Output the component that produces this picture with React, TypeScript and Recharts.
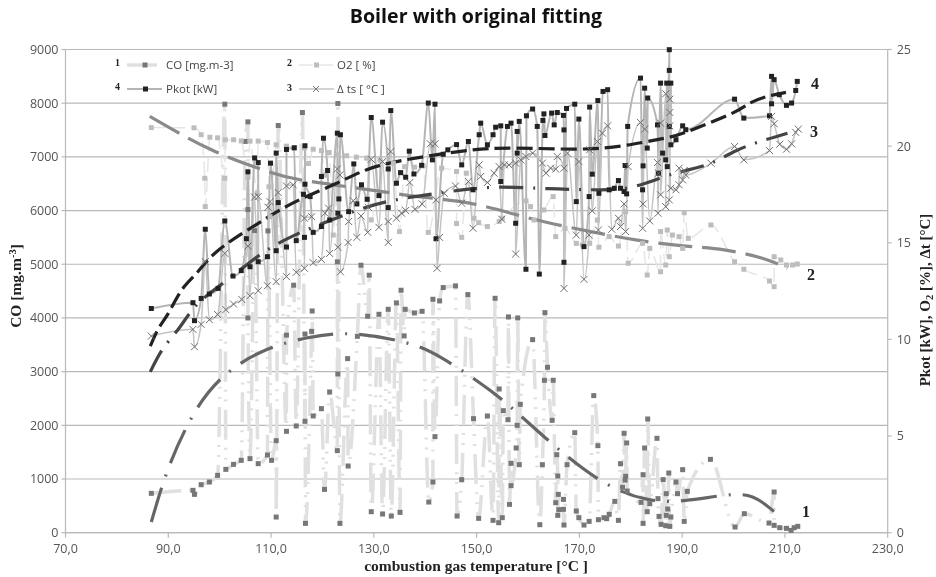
import React from "react";
import { ComposedChart, Line, XAxis, YAxis, CartesianGrid } from "recharts";

type P = [number, number];

const xTicks = [70, 90, 110, 130, 150, 170, 190, 210, 230];
const coTicks = [0, 1000, 2000, 3000, 4000, 5000, 6000, 7000, 8000, 9000];
const rightTicks = [0, 5, 10, 15, 20, 25];

const coPoints: P[] = [[86.7,733],[94.8,789],[95.1,714],[96.4,894],[98,944],[99.6,1068],[101.2,1180],[101,7981],[102.7,1273],[104.2,1348],[105,7288],[105.5,7652],[105.5,6019],[105.9,1379],[105.5,4000],[106.8,5625],[107.5,1286],[109.3,1447],[109.4,5622],[110.1,1348],[111,1714],[111,292],[111.4,7584],[113,1888],[113,3680],[114.4,4610],[114.9,1988],[116.1,7826],[116.6,2075],[116.7,174],[116.6,3700],[117.9,3750],[118,4130],[118.2,2174],[119.8,2311],[120.4,807],[121.4,2621],[122.9,1528],[122.9,5044],[123,2957],[123,7994],[123.4,174],[124.9,3242],[125,1242],[126.8,3658],[127.5,4982],[128.8,4031],[129.1,4796],[129.5,391],[131,4068],[131.7,348],[132.8,4161],[133.4,310],[134.4,4280],[135.1,379],[135.3,4516],[135.9,3665],[136.1,4161],[137.9,4093],[139.4,4124],[140.7,571],[141.5,944],[141.5,4348],[141.9,1789],[142.8,4317],[143.5,4566],[145.9,4597],[146.2,310],[147.1,988],[148.3,4435],[149.4,2124],[150.4,267],[152.1,2174],[153.2,230],[153.6,4366],[154.3,186],[154.4,2677],[155,280],[155.2,2273],[156.1,2105],[156.2,4019],[156.4,528],[156.7,1292],[156.7,876],[157.7,1578],[157.9,2000],[158,4000],[158.3,1267],[158.5,2391],[160.9,3596],[162.3,149],[162.8,1267],[163.2,2839],[163.3,4099],[163.8,3081],[164.7,2093],[164.9,2839],[165.4,559],[165.6,1453],[165.8,1056],[165.8,323],[165.9,714],[166,429],[166.9,621],[166.9,435],[167,143],[167.6,1267],[169.1,1863],[169.4,404],[169.9,280],[170.9,143],[171.9,211],[172.8,2553],[173.6,1621],[173.7,242],[174.8,280],[175.3,261],[175.8,342],[176.9,584],[177.6,230],[178,1286],[178.4,845],[178.7,1851],[178.9,980],[179,1050],[179.2,1671],[179.3,776],[182,565],[182.4,1081],[182.4,174],[182.7,1578],[183.2,391],[183.3,2118],[183.7,540],[185.1,1758],[185.3,634],[185.5,304],[185.9,155],[186.3,988],[186.8,130],[186.9,727],[186.9,323],[187.2,441],[187.4,1112],[187.6,118],[187.8,292],[188.8,944],[189.1,727],[190.1,1174],[190.4,211],[191,770],[195.5,1366],[200.3,106],[202.1,354],[206.9,180],[207.9,758],[207.9,137],[209,93],[210.3,81],[211.2,43],[211.8,93],[212.5,118]];

const o2Points: P[] = [[86.7,20.96],[95,20.95],[96.4,20.59],[97.1,18.34],[97.2,16.87],[98.1,20.46],[99.6,20.43],[101,18.34],[101.1,20.33],[102.7,20.33],[104.2,20.27],[105.5,18.39],[105.9,20.26],[107.3,17.56],[107.5,20.26],[109.3,20.19],[109.6,17.9],[109.8,16.35],[111,20.07],[113,20],[114.6,19.93],[116.5,19.9],[117.3,19.1],[118.2,19.84],[119.8,19.77],[120.4,18.5],[121.3,19.67],[122.1,15.4],[123,19.55],[124.7,19.5],[126.6,19.43],[128.6,19.38],[129.5,16.18],[131.2,19.29],[133.8,19.12],[135,15.58],[136,18.94],[137.9,18.91],[139.6,18.98],[140.6,15.54],[143.2,18.86],[146.1,18.69],[146.1,16],[147.1,15.28],[148,18.6],[149.5,16.27],[150.4,16.04],[152.1,15.84],[154.4,16.1],[155,16.27],[159.6,17.17],[160.5,16.87],[161.2,16.18],[163.1,16.7],[164.9,17.39],[165.4,15.32],[167.2,15.75],[169.4,14.97],[170.6,14.89],[172,14.97],[173.5,16.18],[173.8,14.77],[175.8,15.32],[177.6,14.83],[179,16.61],[179.5,13.94],[182.3,14.97],[183.2,13.33],[183.7,14.71],[185.8,13.5],[185.8,15.58],[186.8,13.85],[187.1,15.66],[187.5,14.28],[188.1,15.4],[189.4,15.32],[190.1,14.71],[190.4,16.56],[191.2,15.23],[195.6,15.92],[200.2,14.02],[202,13.63],[207,13.02],[207.9,12.73],[207.9,14.28],[209.2,14.11],[210.3,13.85],[211.5,13.85],[212.4,13.9]];

const pkotPoints: P[] = [[86.7,11.6],[94.8,11.9],[95.1,10.97],[96.4,12.12],[97.2,15.7],[98,12.35],[99.7,12.64],[101,16.13],[102.6,13.28],[104.2,13.56],[105.2,15.21],[105.5,18.67],[105.9,13.76],[106.8,19.39],[107.5,19.15],[107.5,14.02],[109.3,14.28],[109.9,19.12],[111,14.59],[111,19.64],[111.4,17.08],[113,14.78],[113,19.83],[114.5,19.91],[114.9,15.11],[116.3,17.51],[116.5,15.28],[116.6,20.02],[116.6,18.03],[117.6,17.39],[118.2,15.54],[119.8,15.84],[119.8,18.43],[120.2,20.41],[121,18.74],[121.4,16.18],[122.9,20.67],[123,16.53],[123.2,17.27],[123.5,20.59],[125.1,16.61],[126.1,19.08],[126.7,17.01],[127.6,18],[128.7,17.25],[129.5,21.48],[131,17.44],[131.7,21.24],[132.8,18.82],[132.8,16.82],[133.3,21.84],[134.4,18.08],[135.2,18.63],[136.2,18.39],[136.9,19.74],[137.8,18.56],[139.3,19.01],[140.6,22.23],[141.4,19.29],[141.9,22.17],[142.1,15.21],[143.5,19.58],[144.4,19.81],[146.1,20.08],[147.1,19.03],[148.4,20.24],[149.3,17.74],[150.5,20.59],[150.8,21.19],[152.1,20.07],[153.2,20.59],[153.7,20.98],[154.7,21.05],[154.7,18.17],[156,21.02],[156.7,21.19],[157.6,16.01],[157.9,20.76],[157.9,19.64],[158.3,21.28],[159.6,13.63],[159.7,21.57],[160.9,21.92],[161.8,21.02],[162.2,13.38],[162.9,21.33],[163.1,21.67],[163.3,20.55],[164.6,21.71],[165.1,21.1],[165.7,21.74],[166.9,21.59],[167,20.84],[167,13.99],[167.5,21.95],[169.1,22.17],[169.4,17.13],[169.9,21.4],[170.9,14.8],[171.9,17.39],[172,22.02],[172.5,18.55],[173.6,22.36],[173.8,17.56],[174.6,22.83],[175.5,22.92],[175.8,17.74],[176.8,17.82],[177.6,18.22],[178,17.82],[178.7,17.65],[178.9,19],[179.2,17.53],[179.4,21.02],[181.9,23.52],[182.3,17.74],[182.4,18.98],[182.7,23],[183.2,19.9],[183.3,22.49],[185.2,21.1],[185.4,18.6],[185.8,23.26],[186.2,19.64],[186.8,19.29],[187,23.26],[187.1,18.94],[187.5,24.99],[187.5,23.92],[187.5,21.02],[187.8,23.26],[187.8,20.07],[188.8,20.33],[190.1,21.05],[190.7,20.85],[200.2,22.43],[202,21.45],[207,21.57],[207.4,23.61],[207.4,22.19],[207.9,23.44],[208.9,22.66],[210.3,22.11],[211.3,22.23],[212.1,22.88],[212.4,23.35]];

const dtsPoints: P[] = [[86.7,10.17],[94.8,10.52],[95.1,9.62],[96.4,10.78],[97.2,14.02],[98,11.02],[99.6,11.29],[101,14.45],[101.2,11.54],[102.7,11.83],[104.3,12.07],[105.5,14.83],[105.9,12.26],[106.8,17.36],[107.5,12.52],[107.5,17.39],[109.3,12.78],[109.4,16.84],[109.8,17.13],[111,12.99],[111.4,17.6],[113,13.25],[113,17.94],[114.3,18],[114.9,13.47],[116.5,13.68],[116.5,16.27],[117.9,16.35],[118.2,13.97],[119.8,14.14],[120.5,16.53],[121.2,16.79],[121.4,14.45],[122.9,18.82],[123,14.77],[123.4,18.51],[123.5,13.5],[125,15.02],[125.1,16.1],[126,17.18],[126.7,15.28],[127.5,16.39],[128.8,15.54],[128.9,16.84],[129.5,19.32],[131,15.8],[131.7,19.2],[132.8,15.02],[132.8,16.1],[133.3,19.72],[134.4,16.27],[135.4,16.53],[136.2,16.67],[137,18.12],[138,16.73],[139.4,17.01],[141,20.12],[141.9,20.12],[142.1,17.22],[142.3,13.68],[142.8,15.28],[143.7,17.56],[145.9,17.94],[147.1,17.05],[148.4,18.17],[149.3,15.75],[150.5,19.03],[150.8,18.43],[152.1,18.12],[153.4,18.6],[154.4,18.94],[154.9,16.22],[155.4,19.03],[156.3,19.03],[157.6,19.12],[157.6,14.42],[158.6,19.29],[159.6,19.46],[160.9,19.64],[162.8,19.12],[163.5,18.6],[164.4,18.86],[165.4,18.81],[165.7,19.46],[167,18.86],[167,12.64],[167.7,19.64],[169.4,15.4],[169.9,19.2],[170.9,13.11],[171.9,15.4],[172,19.81],[172.5,16.65],[173.5,20.24],[173.7,15.66],[174.5,20.67],[175.5,21.05],[176.3,15.7],[177.6,16.27],[178,15.84],[178.7,17.01],[179,15.58],[179.5,18.94],[181.9,21.22],[182.3,15.75],[182.4,17.01],[182.7,20.88],[183.7,16.13],[185.2,19.15],[185.3,16.53],[185.4,18.6],[185.8,21.19],[185.8,17.48],[186.8,22.71],[186.8,16.87],[187.5,17.22],[187.6,22.43],[187.6,21.74],[187.6,21.05],[187.8,17.82],[188.8,17.74],[189.4,18],[189.4,18.86],[190.1,18.25],[190.4,18.74],[190.7,18.51],[195.6,19.12],[200.2,19.98],[202,19.29],[207,19.77],[207.4,21.54],[207.9,21.16],[209,20.1],[210.3,19.84],[211.3,20.12],[212.1,20.71],[212.6,20.88]];

const coTrend: P[] = [[86.7,199],[90,1193],[94.8,2186],[100.5,2888],[108.1,3366],[116.9,3627],[125.9,3702],[135.7,3553],[143.2,3255],[152.6,2652],[159.7,2081],[167,1472],[175.2,913],[183.3,621],[190.7,602],[198.2,696],[203.7,665],[207.6,416],[209.5,242]];
const o2Trend: P[] = [[86.4,21.54],[98.4,19.81],[108.5,18.77],[115.9,18.25],[129.2,17.74],[138.6,17.39],[148.6,17.05],[158.6,16.39],[168.3,15.79],[181,15.15],[190.7,14.83],[198.2,14.63],[205.6,14.2],[210.5,13.68]];
const dtsTrend: P[] = [[86.5,8.32],[89,9.53],[92.2,10.62],[95.8,11.86],[101.6,13.1],[107.8,14.37],[113.3,15.23],[118.5,15.84],[125.9,16.6],[133.3,17.17],[143.4,17.6],[153.4,17.87],[163.8,17.8],[171.2,17.75],[179,17.82],[185.8,18.35],[190.7,18.74],[195.6,19.12],[200.4,19.75],[205.3,20.25],[210.5,20.67]];
const pkotTrend: P[] = [[86.5,9.65],[88.1,10.57],[90,11.35],[92.6,12.55],[95.5,13.42],[99.4,14.54],[106.5,15.84],[114.2,17.05],[122.1,18],[128.5,18.77],[134.4,19.2],[140.8,19.5],[148,19.77],[157.6,19.9],[171.9,19.86],[182.3,20.19],[187.5,20.46],[192,20.85],[199.8,21.71],[203,22.2],[206.3,22.55],[210.2,22.78]];

const rows = (pts: P[]) =>
  [...pts].sort((a, b) => a[0] - b[0]).map(([x, y]) => ({ x, y }));

const square = (size: number, fill: string) => (p: any) => (
  <rect key={p.index} x={p.cx - size / 2} y={p.cy - size / 2} width={size} height={size} fill={fill} />
);
const cross = (size: number, stroke: string) => (p: any) => (
  <path
    key={p.index}
    d={`M${p.cx - size},${p.cy - size}L${p.cx + size},${p.cy + size}M${p.cx - size},${p.cy + size}L${p.cx + size},${p.cy - size}`}
    stroke={stroke}
    strokeWidth={1}
    fill="none"
  />
);

const tickStyle = { fontFamily: "'Open Sans', sans-serif", fontSize: 12.5, fill: "#555" };
const serif = "'Liberation Serif', serif";

export default function App() {
  return (
    <div style={{ position: "absolute", left: 0, top: 0, width: 936, height: 577, background: "#fff", filter: "blur(0.45px)" }}>
      <ComposedChart width={936} height={577} margin={{ top: 49.5, right: 0, bottom: 0, left: 0 }}>
        <CartesianGrid vertical={false} yAxisId="left" stroke="#b9b9b9" strokeWidth={1.2} />
        <XAxis dataKey="x" type="number" domain={[70, 230]} ticks={xTicks} height={44.3} interval={0}
          tickFormatter={(v: number) => `${v},0`} tick={tickStyle} stroke="#b9b9b9" strokeWidth={1.2} tickSize={5} tickMargin={6} allowDuplicatedCategory={false} />
        <YAxis yAxisId="left" orientation="left" width={65.5} type="number" domain={[0, 9000]} ticks={coTicks} interval={0}
          tick={tickStyle} stroke="#b9b9b9" strokeWidth={1.2} tickSize={4} tickMargin={3} />
        <YAxis yAxisId="right" orientation="right" width={48.3} type="number" domain={[0, 25]} ticks={rightTicks} interval={0}
          tick={tickStyle} stroke="#b9b9b9" strokeWidth={1.2} tickSize={4} tickMargin={5} />

        <Line yAxisId="left" data={rows(coPoints)} dataKey="y" type="monotone" stroke="#e0e0e0" strokeWidth={3.5}
          strokeDasharray="30 8 2 8 2 8" dot={square(5, "#777")} isAnimationActive={false} />
        <Line yAxisId="right" data={rows(o2Points)} dataKey="y" type="monotone" stroke="#e6e6e6" strokeWidth={1.5}
          strokeDasharray="14 6" dot={square(5, "#bdbdbd")} isAnimationActive={false} />
        <Line yAxisId="right" data={rows(pkotPoints)} dataKey="y" type="monotone" stroke="#b5b5b5" strokeWidth={2}
          dot={square(5, "#222")} isAnimationActive={false} />
        <Line yAxisId="right" data={rows(dtsPoints)} dataKey="y" type="monotone" stroke="#c4c4c4" strokeWidth={1.5}
          dot={cross(3.5, "#6e6e6e")} isAnimationActive={false} />

        <Line yAxisId="left" data={rows(coTrend)} dataKey="y" type="natural" stroke="#666" strokeWidth={3.2}
          strokeDasharray="36 12 2 12" dot={false} isAnimationActive={false} />
        <Line yAxisId="right" data={rows(o2Trend)} dataKey="y" type="natural" stroke="#8a8a8a" strokeWidth={3.2}
          strokeDasharray="34 10" dot={false} isAnimationActive={false} />
        <Line yAxisId="right" data={rows(dtsTrend)} dataKey="y" type="natural" stroke="#444" strokeWidth={3.2}
          strokeDasharray="24 10 2 10" dot={false} isAnimationActive={false} />
        <Line yAxisId="right" data={rows(pkotTrend)} dataKey="y" type="natural" stroke="#222" strokeWidth={3.2}
          strokeDasharray="16 6" dot={false} isAnimationActive={false} />
      </ComposedChart>

      <svg width={936} height={577} style={{ position: "absolute", left: 0, top: 0, pointerEvents: "none", whiteSpace: "pre" }}>
        <text x={476} y={23} textAnchor="middle" fontFamily="'Open Sans', sans-serif" fontWeight={700} fontSize={19.6} fill="#111">Boiler with original fitting</text>
        <text x={476} y={571} textAnchor="middle" fontFamily={serif} fontWeight={700} fontSize={15.5} fill="#222">combustion gas temperature  [°C ]</text>
        <text transform="translate(21,286) rotate(-90)" textAnchor="middle" fontFamily={serif} fontWeight={700} fontSize={15.5} fill="#222">CO  [mg.m<tspan dy={-5} fontSize={10.5}>-3</tspan><tspan dy={5}>]</tspan></text>
        <text transform="translate(930,300) rotate(-90)" textAnchor="middle" fontFamily={serif} fontWeight={700} fontSize={15} fill="#222">Pkot [kW], O<tspan dy={3} fontSize={10.5}>2</tspan><tspan dy={-3}> [%], Δt [°C]</tspan></text>

        {/* legend */}
        <g fontFamily={serif} fontWeight={700} fontSize={10} fill="#222">
          <text x={115} y={66}>1</text>
          <text x={287} y={66}>2</text>
          <text x={115} y={90}>4</text>
          <text x={287} y={91}>3</text>
        </g>
        <line x1={127} x2={157} y1={65} y2={65} stroke="#e0e0e0" strokeWidth={3.5} />
        <rect x={142.5} y={62.5} width={5} height={5} fill="#777" />
        <line x1={299} x2={334} y1={65} y2={65} stroke="#e6e6e6" strokeWidth={1.5} strokeDasharray="14 6" />
        <rect x={314} y={62.5} width={5} height={5} fill="#bdbdbd" />
        <line x1={127} x2={162} y1={89} y2={89} stroke="#b5b5b5" strokeWidth={2} />
        <rect x={143} y={86.5} width={5} height={5} fill="#222" />
        <line x1={299} x2={334} y1={89} y2={89} stroke="#c4c4c4" strokeWidth={1.5} />
        <path d="M313,86L319,92M313,92L319,86" stroke="#777" fill="none" />
        <g fontFamily="'Open Sans', sans-serif" fontSize={11.5} fill="#444">
          <text x={166} y={69}>CO [mg.m-3]</text>
          <text x={337} y={69}>O2 [  %]</text>
          <text x={166} y={93}>Pkot [kW]</text>
          <text x={337} y={93}>Δ ts [ °C ]</text>
        </g>
        <g fontFamily={serif} fontWeight={700} fontSize={16} fill="#222">
          <text x={811} y={89}>4</text>
          <text x={810} y={137}>3</text>
          <text x={807} y={280}>2</text>
          <text x={802} y={517}>1</text>
        </g>
      </svg>
    </div>
  );
}
